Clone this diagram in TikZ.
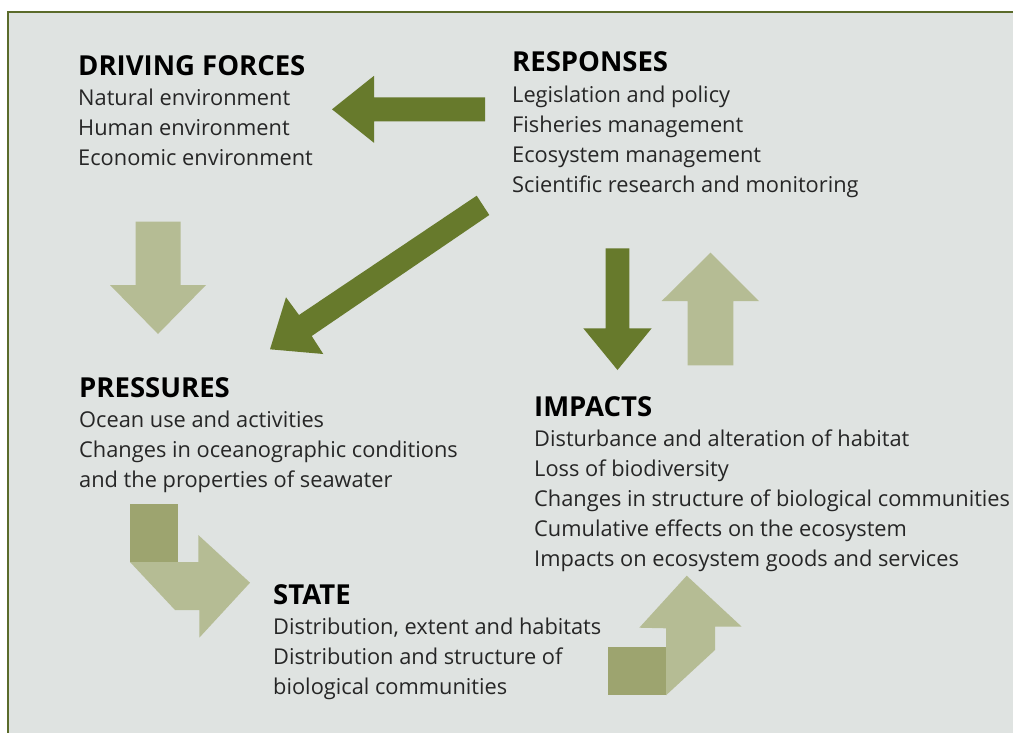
\documentclass[tikz,border=0pt]{standalone}
\usepackage{fontspec}
\setmainfont{Open Sans}
\definecolor{framecol}{HTML}{5B6B2B}
\definecolor{bgcol}{HTML}{DFE3E1}
\definecolor{darkarr}{HTML}{677A2C}
\definecolor{lightarr}{HTML}{B5BC94}
\definecolor{midarr}{HTML}{9DA46F}
\definecolor{bodycol}{HTML}{262626}
\newcommand{\blines}[1]{\begin{tabular}[t]{@{}l@{}}#1\end{tabular}}
\tikzset{
  heading/.style={anchor=base west, inner sep=0pt, font=\fontsize{27.5}{30}\selectfont\bfseries, text=black},
  bodytext/.style={anchor=base west, inner sep=0pt, font=\fontsize{21.8}{30}\selectfont, text=bodycol},
  darkfill/.style={fill=darkarr},
  lightfill/.style={fill=lightarr},
  midfill/.style={fill=midarr}
}
\begin{document}
\begin{tikzpicture}[x=1pt,y=-1pt]
\clip (0,0) rectangle (1013,732);
\fill[white] (0,0) rectangle (1013,732);
\draw[framecol, line width=2.2pt, fill=bgcol] (8,12) rectangle (1030,750);

% arrows
\fill[darkfill] (485,97.3) -- (374,97.3) -- (374,75.8) -- (332,109.3) -- (374,142.8) -- (374,121.3) -- (485,121.3) -- cycle;
\fill[darkfill] (476.7,195.7) -- (489.3,215) -- (311.7,336) -- (323.3,354) -- (270,349.3) -- (286,297.3) -- (299,315) -- cycle;
\fill[darkfill] (605.7,248.3) -- (629.3,248.3) -- (629.3,328.3) -- (651.7,328.3) -- (617.5,370) -- (583.3,328.3) -- (605.7,328.3) -- cycle;
\fill[lightfill] (687.7,365.3) -- (733.3,365.3) -- (733.3,301) -- (759,301) -- (710.5,252.7) -- (661.7,301) -- (687.7,301) -- cycle;
\fill[lightfill] (135.7,221.7) -- (180.7,221.7) -- (180.7,285) -- (206,285) -- (158,334) -- (110,285) -- (135.7,285) -- cycle;
\fill[midfill] (130,504.3) rectangle (178.3,562);
\fill[lightfill] (130,562) -- (198.3,562) -- (198.3,535) -- (250,582.7) -- (199.3,637.7) -- (199.3,610) -- (175,610) -- cycle;
\fill[midfill] (608.3,647.3) rectangle (666,695.3);
\fill[lightfill] (666,695.3) -- (666,628.3) -- (639.3,627.7) -- (686.7,575.7) -- (741.7,626.7) -- (715,626.7) -- (715,650) -- cycle;

% texts
\node[heading] (dfh) at (78,75) {DRIVING FORCES};
\node[bodytext] (dfb) at (78,105.5) {\blines{Natural environment\\Human environment\\Economic environment}};
\node[heading] (rsh) at (512,71) {RESPONSES};
\node[bodytext] (rsb) at (512,102) {\blines{Legislation and policy\\Fisheries management\\Ecosystem management\\Scientific research and monitoring}};
\node[heading] (prh) at (79,397) {PRESSURES};
\node[bodytext] (prb) at (79,427) {\blines{Ocean use and activities\\Changes in oceanographic conditions\\and the properties of seawater}};
\node[heading] (imh) at (534,416) {IMPACTS};
\node[bodytext] (imb) at (534,446) {\blines{Disturbance and alteration of habitat\\Loss of biodiversity\\Changes in structure of biological communities\\Cumulative effects on the ecosystem\\Impacts on ecosystem goods and services}};
\node[heading] (sth) at (273,604) {STATE};
\node[bodytext] (stb) at (273,634) {\blines{Distribution, extent and habitats\\Distribution and structure of\\biological communities}};
\end{tikzpicture}
\end{document}
